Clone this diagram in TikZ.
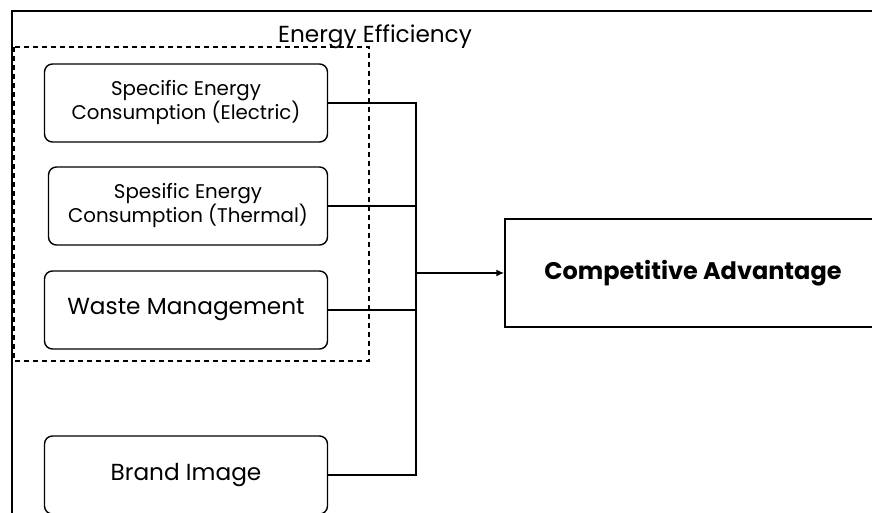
\documentclass[tikz,border=0pt]{standalone}
\usepackage{fontspec}
\setmainfont{Poppins}
\usetikzlibrary{arrows.meta}

\begin{document}
\begin{tikzpicture}[x=0.5pt,y=-0.5pt,
    factor/.style={draw, line width=0.7pt, rounded corners=4pt, minimum width=141.5pt, minimum height=39pt, align=center, inner sep=0pt},
    result/.style={draw, line width=0.7pt, minimum width=188pt, minimum height=54pt, font=\fontsize{12}{14}\selectfont\bfseries},
    link/.style={line width=1.3pt}]
       \useasboundingbox (0,0) rectangle (872,513);
       \draw[line width=1.1pt] (12,520) -- (12,11) -- (880,11);
       \draw[line width=0.7pt, dash pattern=on 2.5pt off 2pt] (14,47) rectangle (369,361);
       \node[anchor=base] (group) at (375,43) {\fontsize{11.6}{13}\selectfont Energy Efficiency};

       \node[factor, font=\fontsize{9.9}{12}\selectfont] (elec) at (186,103) {Specific Energy\\Consumption (Electric)};
       \node[factor, font=\fontsize{9.9}{12}\selectfont, minimum width=139.5pt] (therm) at (188,206) {Spesific Energy\\Consumption (Thermal)};
       \node[factor, font=\fontsize{11.6}{13}\selectfont] (waste) at (186,310) {Waste Management};
       \node[factor, font=\fontsize{11.6}{13}\selectfont] (brand) at (186,475) {Brand Image};

       \node[result] (comp) at (693,273) {Competitive Advantage};

       \coordinate (bus) at (416,273);
       \draw[link] (elec.east) -| (bus);
       \draw[link] (therm.east) -| (bus);
       \draw[link] (waste.east) -| (bus);
       \draw[link] (brand.east) -| (bus);
       \draw[link, -{Latex[length=4pt,width=3.5pt]}] (bus) -- (comp.west);
\end{tikzpicture}
\end{document}
